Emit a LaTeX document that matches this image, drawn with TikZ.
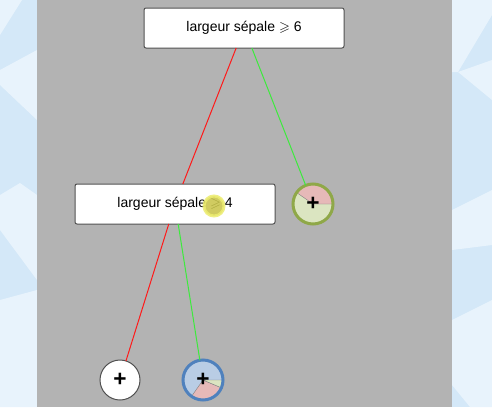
\documentclass[tikz,border=0pt]{standalone}
\usepackage{amssymb}
\usepackage{fontspec}
\setmainfont{Liberation Sans}
\usetikzlibrary{backgrounds}

\pgfdeclarelayer{panel}
\pgfsetlayers{panel,background,main}

\definecolor{panelgray}{RGB}{179,179,179}
\definecolor{bgblue}{RGB}{212,232,248}
\definecolor{bglight}{RGB}{232,243,252}
\definecolor{edgered}{RGB}{255,25,25}
\definecolor{edgegreen}{RGB}{60,235,60}
\definecolor{boxborder}{RGB}{80,80,80}
\definecolor{piepink}{RGB}{230,185,184}
\definecolor{piegreen}{RGB}{219,229,193}
\definecolor{pieblue}{RGB}{185,205,229}
\definecolor{olive}{RGB}{143,168,72}
\definecolor{steel}{RGB}{79,129,189}
\definecolor{cursor}{RGB}{200,195,70}
\definecolor{cursorhalo}{RGB}{236,236,110}

\newcommand*{\leafr}{20}

\begin{document}
\begin{tikzpicture}
[
	x=0.75pt, y=0.75pt,
	testbox/.style={draw=boxborder,fill=white,rounded corners=1.5pt,line width=0.75pt,
		minimum width=150pt,minimum height=30pt,inner sep=0pt,outer sep=0pt,
		font=\fontsize{10.5pt}{12pt}\selectfont},
	leaf/.style={circle,minimum size=30pt,inner sep=0pt,outer sep=0pt,
		font=\fontsize{17pt}{17pt}\selectfont\bfseries},
	no/.style={edgered,line width=0.75pt},
	yes/.style={edgegreen,line width=0.75pt}
]

	% background
	\begin{pgfonlayer}{panel}
		\fill[bgblue] (0,0) rectangle (492,-407);
		\fill[bglight] (0,0) -- (22,0) -- (0,-35) -- cycle;
		\fill[bglight] (0,-70) -- (37,-50) -- (37,-120) -- (0,-85) -- cycle;
		\fill[bglight] (0,-195) -- (20,-183) -- (37,-195) -- (37,-280) -- (0,-230) -- cycle;
		\fill[bglight] (0,-300) -- (37,-290) -- (37,-407) -- (0,-407) -- cycle;
		\fill[bglight] (452,0) -- (492,0) -- (492,-15) -- (458,-72) -- (452,-72) -- cycle;
		\fill[bglight] (458,-72) -- (492,-60) -- (492,-100) -- cycle;
		\fill[bglight] (452,-210) -- (492,-190) -- (492,-245) -- (452,-250) -- cycle;
		\fill[bglight] (452,-320) -- (492,-300) -- (492,-407) -- (470,-407) -- (452,-385) -- cycle;
		\fill[panelgray] (37,0) rectangle (452,-407);
	\end{pgfonlayer}

	% tests
	\node[testbox] (root) at (244,-28) {largeur sépale $\geqslant$ 6};
	\node[testbox] (left) at (175,-204) {largeur sépale $\geqslant$ 4};

	% leaves
	\node[leaf,draw=olive,line width=2.25pt] (rightleaf) at (313,-204) {+};
	\node[leaf,draw=boxborder,fill=white,line width=0.75pt] (lowleaf) at (120,-380) {+};
	\node[leaf,draw=steel,line width=2.25pt] (midleaf) at (203,-380) {+};

	\begin{pgfonlayer}{background}
		\fill[piegreen] (rightleaf.center) circle (\leafr);
		\filldraw[piepink,draw=gray,line width=0.3pt] (rightleaf.center) -- ++(0:\leafr) arc (0:145:\leafr) -- cycle;
		\fill[pieblue] (midleaf.center) circle (\leafr);
		\filldraw[piepink,draw=gray,line width=0.3pt] (midleaf.center) -- ++(-125:\leafr) arc (-125:-23:\leafr) -- cycle;
		\filldraw[piegreen,draw=gray,line width=0.3pt] (midleaf.center) -- ++(-23:\leafr) arc (-23:0:\leafr) -- cycle;
	\end{pgfonlayer}

	% branches
	\draw[no] (root) -- (left);
	\draw[yes] (root) -- (rightleaf);
	\draw[no] (left) -- (lowleaf);
	\draw[yes] (left) -- (midleaf);

	% pointer
	\fill[cursor,draw=cursorhalo,line width=2.25pt,opacity=0.85] (214,-206) circle (10);

\end{tikzpicture}
\end{document}
